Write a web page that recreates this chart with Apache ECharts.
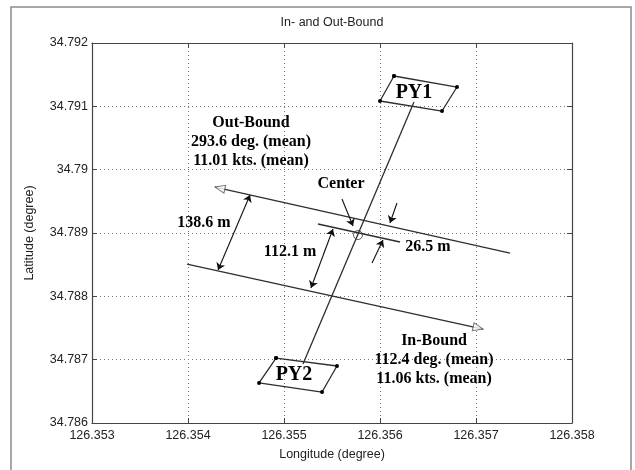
<!DOCTYPE html>
<html><head><meta charset="utf-8">
<script src="https://cdn.jsdelivr.net/npm/echarts@6/dist/echarts.min.js"></script>
<style>html,body{margin:0;padding:0;background:#fff}#c{width:635px;height:470px}</style>
</head><body><div id="c"></div>
<script>
// ---- data (longitude, latitude) ----
const xTicks = [126.353, 126.354, 126.355, 126.356, 126.357, 126.358];
const yTicks = [34.786, 34.787, 34.788, 34.789, 34.790, 34.791, 34.792];

const py1Corners = [[126.356146, 34.791479], [126.356802, 34.791305], [126.356646, 34.790926], [126.356000, 34.791084]];
const py2Corners = [[126.354917, 34.787026], [126.355552, 34.786900], [126.355396, 34.786489], [126.354740, 34.786632]];
const baseline = [[126.356354, 34.791068], [126.355198, 34.786931]];
const outBoundTrack = [[126.354281, 34.789726], [126.357354, 34.788684]];
const inBoundTrack = [[126.353990, 34.788510], [126.357073, 34.787484]];
const centerTrack = [[126.355354, 34.789142], [126.356208, 34.788858]];
const centerPoint = [126.355771, 34.788968];
const outBoundHead = [126.354332, 34.789709];
const inBoundHead = [126.357022, 34.787502];

// single-headed pointer arrows [from, to]
const pointerArrows = [
  [[126.355604, 34.789537], [126.355719, 34.789110]],   // Center
  [[126.356177, 34.789474], [126.356104, 34.789158]],   // 26.5 m (upper)
  [[126.355917, 34.788526], [126.356031, 34.788889]]    // 26.5 m (lower)
];
// double-headed dimension arrows
const dimensionArrows = [
  [[126.354646, 34.789600], [126.354313, 34.788416]],   // 138.6 m
  [[126.355510, 34.789063], [126.355281, 34.788132]]    // 112.1 m
];

const labelTexts = ['Out-Bound\n293.6 deg. (mean)\n11.01 kts. (mean)', 'Center', '138.6 m', '112.1 m', '26.5 m', 'In-Bound\n112.4 deg. (mean)\n11.06 kts. (mean)'];
const labelCoords = [[126.354656, 34.790437], [126.355594, 34.789774], [126.354167, 34.789158], [126.355063, 34.788700], [126.356500, 34.788779], [126.356563, 34.786995]];
const buoyNames = ['PY1', 'PY2'];
const buoyCoords = [[126.356354, 34.791211], [126.355104, 34.786758]];

// ---- chart ----
const fmt = v => String(+(+v).toFixed(3));
const lineCol = '#2e2e2e';
const axisFont = {fontFamily: 'Liberation Sans, Arial, sans-serif', fontSize: 12.5, color: '#222'};
const annFont = {fontFamily: 'Liberation Serif, Times New Roman, serif', fontWeight: 'bold', fontSize: 16, color: '#000', textBorderWidth: 0, opacity: 1};

function lineSeries(pts, extra) {
  return Object.assign({type: 'line', data: pts, showSymbol: false, symbol: 'none', silent: true,
    lineStyle: {color: lineCol, width: 1.3}, z: 3, animation: false}, extra || {});
}
function closed(p) { return p.concat([p[0]]); }

const chart = echarts.init(document.getElementById('c'), null, {renderer: 'canvas'});
chart.setOption({
  animation: false,
  backgroundColor: '#fff',
  grid: {left: 92, top: 43, right: 63, bottom: 47, show: false},
  graphic: [
    {type: 'rect', shape: {x: 11, y: 7, width: 620, height: 480}, style: {fill: 'none', stroke: '#8c8c8c', lineWidth: 1.5}, z: -1, silent: true},
    {type: 'text', x: 332, y: 23, style: {text: 'In- and Out-Bound', textAlign: 'center', textVerticalAlign: 'middle', font: '12.5px "Liberation Sans", Arial, sans-serif', fill: '#222'}}
  ],
  xAxis: [
    {type: 'value', min: xTicks[0], max: xTicks[xTicks.length - 1], interval: 0.001, position: 'bottom',
     name: 'Longitude (degree)', nameLocation: 'middle', nameGap: 25, nameTextStyle: axisFont,
     axisLine: {show: true, onZero: false, lineStyle: {color: '#444', width: 1.2}},
     axisTick: {show: true, inside: true, length: 5, lineStyle: {color: '#444'}},
     axisLabel: Object.assign({formatter: fmt, margin: 6}, axisFont),
     splitLine: {show: true, lineStyle: {color: '#7a7a7a', type: [1, 3], width: 1}}},
    {type: 'value', min: xTicks[0], max: xTicks[xTicks.length - 1], interval: 0.001, position: 'top',
     axisLine: {show: true, onZero: false, lineStyle: {color: '#444', width: 1.2}},
     axisTick: {show: true, inside: true, length: 5, lineStyle: {color: '#444'}},
     axisLabel: {show: false}, splitLine: {show: false}}
  ],
  yAxis: [
    {type: 'value', min: yTicks[0], max: yTicks[yTicks.length - 1], interval: 0.001, position: 'left',
     name: 'Latitude (degree)', nameLocation: 'middle', nameGap: 56, nameRotate: 90, nameTextStyle: axisFont,
     axisLine: {show: true, onZero: false, lineStyle: {color: '#444', width: 1.2}},
     axisTick: {show: true, inside: true, length: 5, lineStyle: {color: '#444'}},
     axisLabel: Object.assign({formatter: fmt, margin: 4}, axisFont),
     splitLine: {show: true, lineStyle: {color: '#7a7a7a', type: [1, 3], width: 1}}},
    {type: 'value', min: yTicks[0], max: yTicks[yTicks.length - 1], interval: 0.001, position: 'right',
     axisLine: {show: true, onZero: false, lineStyle: {color: '#444', width: 1.2}},
     axisTick: {show: true, inside: true, length: 5, lineStyle: {color: '#444'}},
     axisLabel: {show: false}, splitLine: {show: false}}
  ],
  series: [
    lineSeries(baseline),
    lineSeries(closed(py1Corners), {showSymbol: true, symbol: 'circle', symbolSize: 4, itemStyle: {color: '#000'}}),
    lineSeries(closed(py2Corners), {showSymbol: true, symbol: 'circle', symbolSize: 4, itemStyle: {color: '#000'}}),
    lineSeries(outBoundTrack),
    lineSeries(inBoundTrack),
    lineSeries(centerTrack),
    {type: 'scatter', silent: true, z: 5, data: [outBoundHead], symbol: 'triangle', symbolSize: [8, 10], symbolRotate: 77.4,
     itemStyle: {color: '#fff', borderColor: '#555', borderWidth: 1}},
    {type: 'scatter', silent: true, z: 5, data: [inBoundHead], symbol: 'triangle', symbolSize: [8, 10], symbolRotate: -102.4,
     itemStyle: {color: '#fff', borderColor: '#555', borderWidth: 1}},
    {type: 'scatter', silent: true, z: 5, data: [centerPoint], symbol: 'circle', symbolSize: 9,
     itemStyle: {color: 'rgba(0,0,0,0)', borderColor: '#333', borderWidth: 1}},
    {type: 'lines', coordinateSystem: 'cartesian2d', silent: true, z: 4,
     symbol: ['none', 'arrow'], symbolSize: 7,
     lineStyle: {color: '#111', width: 1.1, opacity: 1},
     data: pointerArrows.map(c => ({coords: c}))},
    {type: 'lines', coordinateSystem: 'cartesian2d', silent: true, z: 4,
     symbol: ['arrow', 'arrow'], symbolSize: 7,
     lineStyle: {color: '#111', width: 1.1, opacity: 1},
     data: dimensionArrows.map(c => ({coords: c}))},
    {type: 'scatter', silent: true, z: 6, symbolSize: 0,
     data: labelCoords.map((c, i) => ({value: c, name: labelTexts[i]})),
     label: Object.assign({show: true, position: 'inside', formatter: p => p.name, lineHeight: 19, align: 'center', verticalAlign: 'middle'}, annFont)},
    {type: 'scatter', silent: true, z: 6, symbolSize: 0,
     data: buoyCoords.map((c, i) => ({value: c, name: buoyNames[i]})),
     label: Object.assign({show: true, position: 'inside', formatter: p => p.name, align: 'center', verticalAlign: 'middle'}, annFont, {fontSize: 20})}
  ]
});
</script>
</body></html>
